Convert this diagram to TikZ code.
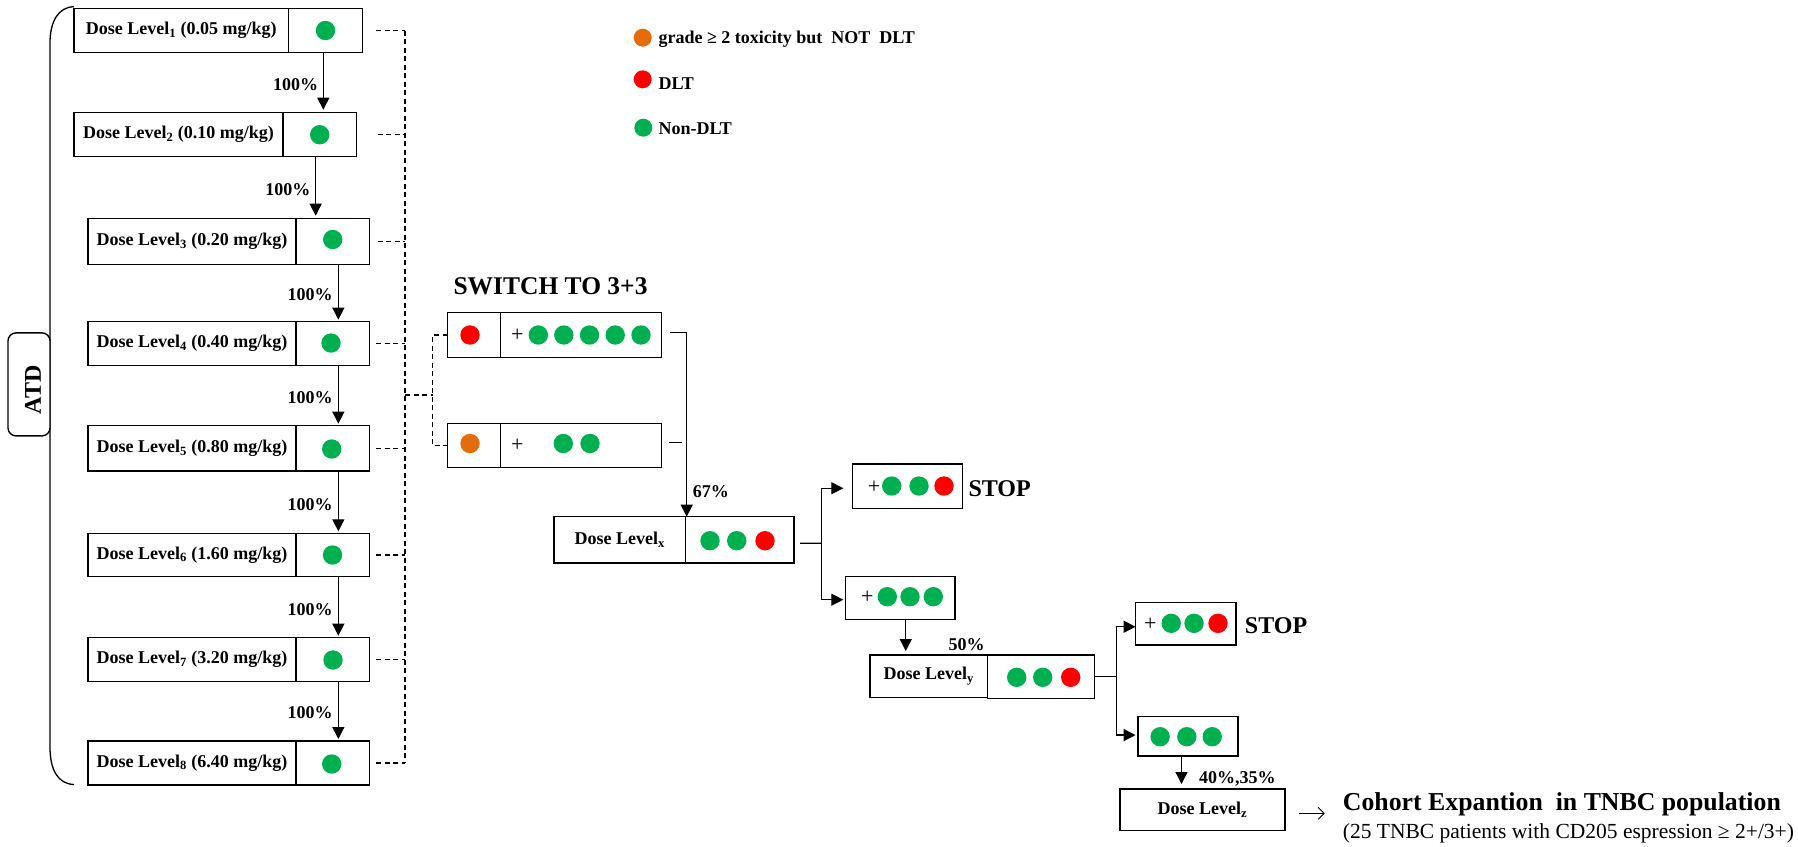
\documentclass[tikz,border=0pt]{standalone}
\usepackage{fontspec}
\setmainfont{Liberation Serif}
\usetikzlibrary{arrows.meta}
\definecolor{gr}{HTML}{00B050}
\definecolor{rd}{HTML}{FF0000}
\definecolor{og}{HTML}{E46C0A}
\newcommand\fsz[1]{\fontsize{#1}{#1}\selectfont}
\newcommand\mkbox[6]{\node[bx,minimum width={#4-#2},minimum height={#5-#3}] (#1) at ({(#2+#4)/2},{(#3+#5)/2}) {#6};}
\newcommand\mydot[3]{\fill[#1] (#2,#3) circle[radius=9.7pt];}
\begin{document}
\begin{tikzpicture}[x=1pt,y=-1pt,
 bx/.style={draw,line width=1.4pt,inner sep=0pt,outer sep=0pt,font=\fsz{18}\bfseries},
 ln/.style={line width=1.3pt},
 arr/.style={line width=1.3pt,-{Triangle[width=12pt,length=12pt]}},
 dsh/.style={line width=1.1pt,dash pattern=on 5pt off 3.5pt},
 lbl/.style={font=\fsz{18}\bfseries,inner sep=0pt},
 big/.style={font=\fsz{25}\bfseries,inner sep=0pt},
 pl/.style={font=\fsz{22},inner sep=0pt}]
\useasboundingbox (0,0) rectangle (1798,846);

% ---------- left bracket and ATD ----------
\draw[ln] (74,6.7) .. controls (58,7) and (50,22) .. (50,43) -- (50,747) .. controls (50,770) and (58,784) .. (74,784.5);
\node[draw,line width=1.4pt,rounded corners=8pt,minimum width=42pt,minimum height=103pt,fill=white,inner sep=0pt] (atdbox) at (29,384.4) {};
\node[big,font=\fsz{24}\bfseries,rotate=90] (atd) at (33,390) {ATD};

% ---------- dose levels ----------
\mkbox{b1l}{74}{8.7}{288.7}{52.3}{Dose Level\textsubscript{1} (0.05 mg/kg)}
\mkbox{b1r}{288.7}{8.7}{362.3}{52.3}{}
\mkbox{b2l}{74}{112.7}{283}{156.7}{Dose Level\textsubscript{2} (0.10 mg/kg)}
\mkbox{b2r}{283}{112.7}{356.3}{156.7}{}
\mkbox{b3l}{88}{218.7}{296}{264.3}{Dose Level\textsubscript{3} (0.20 mg/kg)}
\mkbox{b3r}{296}{218.7}{369.3}{264.3}{}
\mkbox{b4l}{88}{321.7}{296}{365.7}{Dose Level\textsubscript{4} (0.40 mg/kg)}
\mkbox{b4r}{296}{321.7}{369.3}{365.7}{}
\mkbox{b5l}{88}{425.7}{296}{471}{Dose Level\textsubscript{5} (0.80 mg/kg)}
\mkbox{b5r}{296}{425.7}{369.3}{471}{}
\mkbox{b6l}{88}{533.3}{296}{576.7}{Dose Level\textsubscript{6} (1.60 mg/kg)}
\mkbox{b6r}{296}{533.3}{369.3}{576.7}{}
\mkbox{b7l}{88}{637.7}{296}{681.7}{Dose Level\textsubscript{7} (3.20 mg/kg)}
\mkbox{b7r}{296}{637.7}{369.3}{681.7}{}
\mkbox{b8l}{88}{741}{296}{785}{Dose Level\textsubscript{8} (6.40 mg/kg)}
\mkbox{b8r}{296}{741}{369.3}{785}{}
\mydot{gr}{325.5}{30.5}
\mydot{gr}{319.7}{134.7}
\mydot{gr}{332.7}{239.5}
\mydot{gr}{331}{343}
\mydot{gr}{331.7}{449}
\mydot{gr}{332.5}{555}
\mydot{gr}{333}{660}
\mydot{gr}{331.7}{764}

% arrows between dose levels
\draw[arr,shorten >=3pt] ([xshift=-2.2pt]b1r.south) -- ([xshift=-2.2pt]b1r.south |- b2r.north);
\draw[arr,shorten >=3pt] ([xshift=-4pt]b2r.south) -- ([xshift=-4pt]b2r.south |- b3r.north);
\draw[arr,shorten >=2pt] ([xshift=5.7pt]b3r.south) -- ([xshift=5.7pt]b3r.south |- b4r.north);
\draw[arr,shorten >=2pt] ([xshift=5.7pt]b4r.south) -- ([xshift=5.7pt]b4r.south |- b5r.north);
\draw[arr,shorten >=2pt] ([xshift=5.7pt]b5r.south) -- ([xshift=5.7pt]b5r.south |- b6r.north);
\draw[arr,shorten >=2pt] ([xshift=5.7pt]b6r.south) -- ([xshift=5.7pt]b6r.south |- b7r.north);
\draw[arr,shorten >=2pt] ([xshift=5.7pt]b7r.south) -- ([xshift=5.7pt]b7r.south |- b8r.north);
\node[lbl,anchor=base east] (p12) at (318.3,90) {100\%};
\node[lbl,anchor=base east] (p23) at (310.5,195) {100\%};
\node[lbl,anchor=base east] (p34) at (332.7,300) {100\%};
\node[lbl,anchor=base east] (p45) at (332.7,403.3) {100\%};
\node[lbl,anchor=base east] (p56) at (332.7,510) {100\%};
\node[lbl,anchor=base east] (p67) at (332.7,615) {100\%};
\node[lbl,anchor=base east] (p78) at (332.7,718) {100\%};

% dashed links
\coordinate (dv) at (405,26.7);
\coordinate (dm) at (432.7,395);
\draw[dsh] ([xshift=13.7pt]b1r.east) -- (b1r.east -| dv);
\draw[dsh] ([xshift=21.4pt]b2r.east) -- (b2r.east -| dv);
\draw[dsh] ([xshift=8.4pt]b3r.east) -- (b3r.east -| dv);
\draw[dsh] ([xshift=6.7pt]b4r.east) -- (b4r.east -| dv);
\draw[dsh] ([xshift=6.7pt]b5r.east) -- (b5r.east -| dv);
\draw[dsh] ([xshift=6.7pt]b6r.east) -- (b6r.east -| dv);
\draw[dsh] ([xshift=6.7pt]b7r.east) -- (b7r.east -| dv);
\draw[dsh] ([xshift=6.7pt]b8r.east) -- (b8r.east -| dv);
\draw[dsh] (b1r.east -| dv) -- (b8r.east -| dv);
\draw[dsh] (dv |- dm) -- (dm);

% ---------- switch to 3+3 ----------
\node[big,font=\fsz{25.5}\bfseries,anchor=base west] (sw) at (453.3,294.3) {SWITCH TO 3+3};
\mkbox{s1l}{447.7}{312.7}{500.3}{357.3}{}
\mkbox{s1r}{500.3}{312.7}{661.3}{357.3}{}
\mkbox{s2l}{447.7}{423.3}{500.3}{467.3}{}
\mkbox{s2r}{500.3}{423.3}{661.3}{467.3}{}
\draw[dsh] (s1l.west) -- (s1l.west -| dm) -- (s2l.west -| dm) -- (s2l.west);
\mydot{rd}{470}{335}
\node[pl] (pls1) at (517.3,335) {+};
\mydot{gr}{538.3}{335}
\mydot{gr}{563.8}{335}
\mydot{gr}{589.5}{335}
\mydot{gr}{615.2}{335}
\mydot{gr}{641}{335}
\mydot{og}{470}{443.5}
\node[pl] (pls2) at (517.3,445) {+};
\mydot{gr}{563.3}{443.5}
\mydot{gr}{590}{443.5}

% ---------- dose level x ----------
\mkbox{dxl}{554}{516.7}{685.7}{563}{Dose Level\textsubscript{x}}
\mkbox{dxr}{685.7}{516.7}{794}{563}{}
\mydot{gr}{710}{540.7}
\mydot{gr}{736.7}{540.7}
\mydot{rd}{765}{540.7}
\draw[arr] ([xshift=8.7pt,yshift=2.3pt]s1r.east) -| ([xshift=1pt]dxl.north east);
\draw[ln] ([xshift=8pt,yshift=2.6pt]s2r.east) -- ++(13,0);
\node[lbl,anchor=base west] (p67b) at (692.7,497.3) {67\%};

\coordinate (bxx) at (821.7,543.3);
\mkbox{st1}{852.7}{464}{962.3}{508.3}{}
\mkbox{ca}{845.7}{576.7}{955}{619.3}{}
\draw[ln] ([xshift=6pt,yshift=-3.4pt]dxr.east) -- (bxx);
\draw[arr] (bxx) |- ([xshift=-9.4pt,yshift=-2.1pt]st1.west);
\draw[arr] (bxx) |- ([xshift=-2.4pt,yshift=-1.7pt]ca.west);
\node[pl] (pls3) at (874,487) {+};
\mydot{gr}{891.7}{486}
\mydot{gr}{919}{486}
\mydot{rd}{944}{486}
\node[big,font=\fsz{24}\bfseries,anchor=base west] (stop1) at (968.3,496) {STOP};
\node[pl] (pls4) at (867.3,597.5) {+};
\mydot{gr}{887.3}{596.7}
\mydot{gr}{910}{596.7}
\mydot{gr}{933.3}{596.7}

% ---------- dose level y ----------
\mkbox{dyl}{870}{655}{987.3}{697.5}{Dose Level\textsubscript{y}}
\mkbox{dyr}{987.3}{655}{1094.7}{698.3}{}
\mydot{gr}{1016.7}{677.3}
\mydot{gr}{1042.7}{677.3}
\mydot{rd}{1070.7}{677.3}
\draw[arr,shorten >=4pt] ([xshift=5.4pt]ca.south) -- ([xshift=5.4pt]ca.south |- dyl.north);
\node[lbl,anchor=base west] (p50) at (948.3,650) {50\%};

\coordinate (byy) at (1116.6,680.7);
\mkbox{st2}{1135.6}{602.7}{1235.8}{645}{}
\mkbox{cb}{1137.8}{716.7}{1238}{756}{}
\draw[ln] (dyr.east) -- (dyr.east -| byy);
\draw[arr] (dyr.east -| byy) |- ([yshift=-2.9pt]st2.west);
\draw[arr] (dyr.east -| byy) |- ([xshift=-2.2pt,yshift=1.3pt]cb.west);
\node[pl] (pls5) at (1150.3,624) {+};
\mydot{gr}{1171.2}{623.3}
\mydot{gr}{1194}{623.3}
\mydot{rd}{1218}{623.3}
\node[big,font=\fsz{24}\bfseries,anchor=base west] (stop2) at (1244.7,633.3) {STOP};
\mydot{gr}{1160.1}{736.7}
\mydot{gr}{1186.8}{736.7}
\mydot{gr}{1212.2}{736.7}

% ---------- dose level z ----------
\mkbox{dz}{1120}{789}{1284.8}{830.7}{Dose Level\textsubscript{z}}
\draw[arr,shorten >=5pt] ([xshift=-6.4pt]cb.south) -- ([xshift=-6.4pt]cb.south |- dz.north);
\node[lbl,anchor=base west] (p40) at (1198.8,783.3) {40\%,35\%};
\node[font=\fsz{25.8}\bfseries,inner sep=0pt,anchor=base west] (coh) at (1342.7,810) {Cohort Expantion~~in TNBC population};
\node[font=\fsz{21.5},inner sep=0pt,anchor=base west] (cohsub) at (1342.7,838.3) {(25 TNBC patients with CD205 espression ≥ 2+/3+)};
\draw[line width=1pt,-{Straight Barb[length=6pt,width=12pt]}] ([xshift=14.2pt,yshift=-3.5pt]dz.east) -- ++(25.8,0);

% ---------- legend ----------
\fill[og] (642.7,37.7) circle[radius=9pt];
\fill[rd] (642.7,79.3) circle[radius=9pt];
\fill[gr] (643.3,127.7) circle[radius=9pt];
\node[lbl,anchor=base west] (lg1) at (658.3,43.3) {grade ≥ 2 toxicity but~~NOT~~DLT};
\node[lbl,anchor=base west] (lg2) at (658.3,89.3) {DLT};
\node[lbl,anchor=base west] (lg3) at (658.3,134.3) {Non-DLT};
\end{tikzpicture}
\end{document}
